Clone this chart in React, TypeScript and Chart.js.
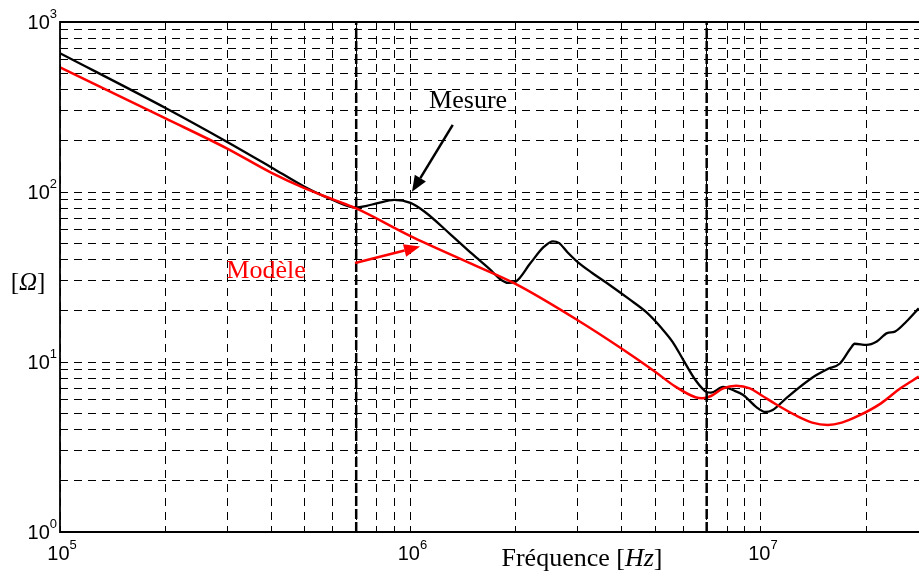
import React, { useEffect, useRef } from "react";
import { Chart, registerables } from "chart.js";

Chart.register(...registerables);

// Measured impedance (Mesure), frequency in Hz, impedance in ohm
const measureFreq = [
  1e5, 2e5, 3e5, 4e5, 5e5, 6e5, 7e5, 7.5e5, 8e5, 9e5, 1e6, 1.1e6, 1.3e6, 1.5e6, 1.7e6,
  1.8e6, 1.9e6, 2e6, 2.2e6, 2.4e6, 2.55e6, 2.65e6, 2.8e6, 3e6, 3.3e6, 3.7e6, 4.2e6,
  4.7e6, 5.2e6, 5.6e6, 6e6, 6.5e6, 7e6, 7.2e6, 7.8e6, 8.3e6, 8.9e6, 9.7e6, 1.03e7,
  1.08e7, 1.19e7, 1.41e7, 1.55e7, 1.68e7, 1.8e7, 1.85e7, 2.0e7, 2.14e7, 2.29e7, 2.41e7,
  2.6e7, 2.82e7,
];
const measureZ = [
  655, 312, 197, 140, 107, 89.8, 81, 83, 85.6, 89.9, 86.3, 76.3, 56.4, 43.2, 34.5,
  30.8, 29.2, 29.8, 38.2, 47.5, 51.3, 50.2, 44.4, 38.7, 33.4, 28.4, 23.5,
  19.7, 15.85, 13.1, 10.3, 7.84, 6.66, 6.6, 7.13, 6.84, 6.4, 5.43, 5.08,
  5.22, 6.22, 8.16, 9.1, 9.8, 12.0, 12.8, 12.6, 13.2, 14.8, 15.1,
  17.3, 20.7,
];

// Model impedance (Modèle)
const modelFreq = [
  1e5, 2e5, 3e5, 4e5, 5e5, 6e5, 7e5, 1e6, 1.5e6, 2e6, 3e6, 4e6, 5e6, 5.7e6, 6.5e6,
  6.8e6, 7.2e6, 7.8e6, 8.5e6, 9.3e6, 1e7, 1.1e7, 1.25e7, 1.4e7, 1.55e7, 1.7e7, 1.9e7,
  2.2e7, 2.5e7, 2.82e7,
];
const modelZ = [
  541, 271, 180, 130, 105, 90.5, 80, 55, 37.6, 28.7, 17.6, 12.0, 8.73, 7.16, 6.2,
  6.11, 6.31, 7.0, 7.26, 7.0, 6.4, 5.66, 4.88, 4.4, 4.26, 4.4, 4.83,
  5.71, 7.0, 8.2,
];

// Resonance marker frequencies (thick dashed verticals)
const markerFreqs = [7e5, 7e6];

// Axis ranges and tick labels (powers of ten)
const xMin = 1e5;
const xMax = 2.824e7;
const yMin = 1;
const yMax = 1000;
const xTickExponents = [5, 6, 7];
const yTickExponents = [0, 1, 2, 3];
const mantissas = [1, 2, 3, 4, 5, 6, 7, 8, 9];

// Annotations (data coordinates)
const mesureLabel = { text: "Mesure", f: 1.46e6, z: 348 };
const mesureArrow = { from: [1.32e6, 248], to: [1.01e6, 100.4] };
const modeleLabel = { text: "Modèle", f: 3.87e5, z: 34.8 };
const modeleArrow = { from: [6.95e5, 38.2], to: [1.065e6, 47.8] };

const xGridValues: number[] = [];
for (let e = 5; e <= 7; e++) for (const m of mantissas) {
  const v = m * Math.pow(10, e);
  if (v <= 2e7) xGridValues.push(v);
}
const yGridValues: number[] = [];
for (let e = 0; e <= 2; e++) for (const m of mantissas) yGridValues.push(m * Math.pow(10, e));
yGridValues.push(1000);

const SERIF = '"Liberation Serif", "Times New Roman", serif';
const SANS = '"Liberation Sans", Arial, sans-serif';

function drawArrow(ctx: CanvasRenderingContext2D, x1: number, y1: number, x2: number, y2: number, color: string) {
  const headLen = 16;
  const headW = 6.5;
  const ang = Math.atan2(y2 - y1, x2 - x1);
  const bx = x2 - headLen * Math.cos(ang);
  const by = y2 - headLen * Math.sin(ang);
  ctx.strokeStyle = color;
  ctx.lineWidth = 2.5;
  ctx.beginPath();
  ctx.moveTo(x1, y1);
  ctx.lineTo(bx, by);
  ctx.stroke();
  ctx.fillStyle = color;
  ctx.beginPath();
  ctx.moveTo(x2, y2);
  ctx.lineTo(bx + headW * Math.sin(ang), by - headW * Math.cos(ang));
  ctx.lineTo(bx - headW * Math.sin(ang), by + headW * Math.cos(ang));
  ctx.closePath();
  ctx.fill();
}

function drawPow(ctx: CanvasRenderingContext2D, exp: string, x: number, baseline: number, align: "center" | "right") {
  ctx.font = `20px ${SANS}`;
  const wb = ctx.measureText("10").width;
  ctx.font = `13px ${SANS}`;
  const we = ctx.measureText(exp).width;
  const total = wb + we;
  const left = align === "center" ? x - total / 2 : x - total;
  ctx.textAlign = "left";
  ctx.textBaseline = "alphabetic";
  ctx.fillStyle = "#000";
  ctx.font = `20px ${SANS}`;
  ctx.fillText("10", left, baseline);
  ctx.font = `13px ${SANS}`;
  ctx.fillText(exp, left + wb, baseline - 11);
}

function drawMixed(ctx: CanvasRenderingContext2D, parts: { t: string; it?: boolean }[], size: number, cx: number, baseline: number, color: string) {
  let total = 0;
  const widths = parts.map((p) => {
    ctx.font = `${p.it ? "italic " : ""}${size}px ${SERIF}`;
    const w = ctx.measureText(p.t).width;
    total += w;
    return w;
  });
  let x = cx - total / 2;
  ctx.textAlign = "left";
  ctx.textBaseline = "alphabetic";
  ctx.fillStyle = color;
  parts.forEach((p, i) => {
    ctx.font = `${p.it ? "italic " : ""}${size}px ${SERIF}`;
    ctx.fillText(p.t, x, baseline);
    x += widths[i];
  });
}

const overlay = {
  id: "overlay",
  afterDraw(chart: any) {
    const { ctx, chartArea: a, scales } = chart;
    const xs = scales.x;
    const ys = scales.y;
    ctx.save();
    // frame
    ctx.strokeStyle = "#000";
    ctx.lineWidth = 1.8;
    ctx.setLineDash([]);
    ctx.beginPath();
    ctx.moveTo(a.right + 2, a.top);
    ctx.lineTo(a.left, a.top);
    ctx.lineTo(a.left, a.bottom);
    ctx.lineTo(a.right + 2, a.bottom);
    ctx.stroke();

    // tick labels
    xTickExponents.forEach((e) => {
      const px = xs.getPixelForValue(Math.pow(10, e));
      drawPow(ctx, String(e), px + 2, a.bottom + 28, "center");
    });
    yTickExponents.forEach((e) => {
      const py = ys.getPixelForValue(Math.pow(10, e));
      drawPow(ctx, String(e), a.left - 3, py + 7, "right");
    });

    // axis titles
    drawMixed(ctx, [{ t: "Fréquence [" }, { t: "Hz", it: true }, { t: "]" }], 26, 582, a.bottom + 34, "#000");
    drawMixed(ctx, [{ t: "[" }, { t: "Ω", it: true }, { t: "]" }], 25, 28, 290, "#000");

    // annotations
    drawMixed(ctx, [{ t: mesureLabel.text }], 26, xs.getPixelForValue(mesureLabel.f), ys.getPixelForValue(mesureLabel.z) + 8, "#000");
    drawArrow(ctx,
      xs.getPixelForValue(mesureArrow.from[0]), ys.getPixelForValue(mesureArrow.from[1]),
      xs.getPixelForValue(mesureArrow.to[0]), ys.getPixelForValue(mesureArrow.to[1]), "#000");
    drawMixed(ctx, [{ t: modeleLabel.text }], 26, xs.getPixelForValue(modeleLabel.f), ys.getPixelForValue(modeleLabel.z) + 8, "#ff0000");
    drawArrow(ctx,
      xs.getPixelForValue(modeleArrow.from[0]), ys.getPixelForValue(modeleArrow.from[1]),
      xs.getPixelForValue(modeleArrow.to[0]), ys.getPixelForValue(modeleArrow.to[1]), "#ff0000");
    ctx.restore();
  },
};

export default function App() {
  const ref = useRef<HTMLCanvasElement>(null);
  useEffect(() => {
    const markerSets = markerFreqs.map((f) => ({
      data: [{ x: f, y: yMin }, { x: f, y: yMax }],
      borderColor: "#000",
      borderWidth: 2.5,
      borderDash: [10, 3],
      pointRadius: 0,
      order: 0,
    }));
    const chart = new Chart(ref.current as HTMLCanvasElement, {
      type: "line",
      data: {
        datasets: [
          ...markerSets,
          {
            data: modelFreq.map((f, i) => ({ x: f, y: modelZ[i] })),
            borderColor: "#ff0000",
            borderWidth: 2.5,
            pointRadius: 0,
            cubicInterpolationMode: "monotone",
            order: 1,
          },
          {
            data: measureFreq.map((f, i) => ({ x: f, y: measureZ[i] })),
            borderColor: "#000",
            borderWidth: 2.3,
            pointRadius: 0,
            cubicInterpolationMode: "monotone",
            order: 2,
          },
        ] as any,
      },
      options: {
        animation: false,
        responsive: false,
        layout: { padding: { left: 60, top: 22, right: 0, bottom: 39 } },
        plugins: { legend: { display: false }, tooltip: { enabled: false } },
        scales: {
          x: {
            type: "logarithmic",
            min: xMin,
            max: xMax,
            ticks: { display: false },
            grid: { color: "#000", lineWidth: 1, drawTicks: false },
            border: { display: false, dash: [8, 6] },
            afterFit: (s: any) => { s.height = 0; },
            afterBuildTicks: (s: any) => { s.ticks = xGridValues.map((v) => ({ value: v })); },
          },
          y: {
            type: "logarithmic",
            min: yMin,
            max: yMax,
            ticks: { display: false },
            grid: { color: "#000", lineWidth: 1, drawTicks: false },
            border: { display: false, dash: [8, 6] },
            afterFit: (s: any) => { s.width = 0; },
            afterBuildTicks: (s: any) => { s.ticks = yGridValues.map((v) => ({ value: v })); },
          },
        },
      } as any,
      plugins: [overlay],
    });
    return () => chart.destroy();
  }, []);
  return (
    <div style={{ position: "fixed", left: 0, top: 0, width: 919, height: 571, background: "#fff" }}>
      <canvas ref={ref} width={919} height={571} style={{ display: "block" }} />
    </div>
  );
}
